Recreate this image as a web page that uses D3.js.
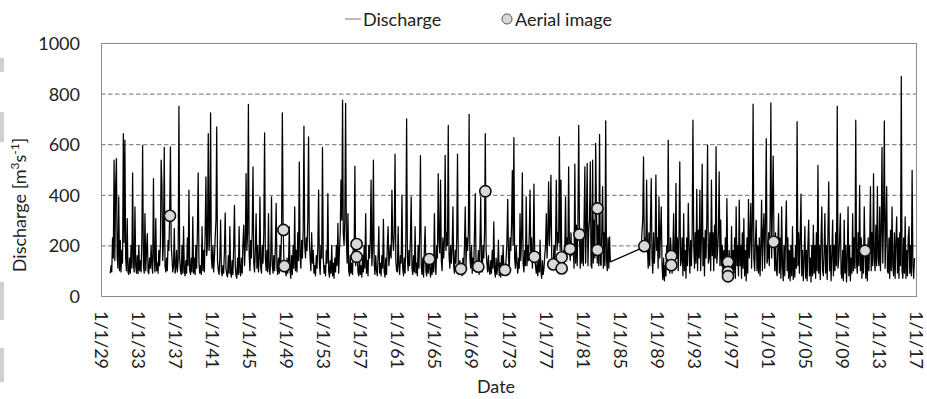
<!DOCTYPE html>
<html><head><meta charset="utf-8">
<script src="https://cdn.jsdelivr.net/npm/d3@7"></script>
<style>
body{margin:0;background:#fff}
svg{display:block}
text{font-family:Lato,"Open Sans",sans-serif;fill:#222}
</style>
</head><body>
<svg id="chart" width="927" height="399"></svg>
<script>
// ---------- data ----------
const tickYears = [1929,1933,1937,1941,1945,1949,1953,1957,1961,1965,1969,1973,1977,1981,1985,1989,1993,1997,2001,2005,2009,2013,2017];
const tickLabels = ["1/1/29","1/1/33","1/1/37","1/1/41","1/1/45","1/1/49","1/1/53","1/1/57","1/1/61","1/1/65","1/1/69","1/1/73","1/1/77","1/1/81","1/1/85","1/1/89","1/1/93","1/1/97","1/1/01","1/1/05","1/1/09","1/1/13","1/1/17"];
const yTicks = [0,200,400,600,800,1000];

// monthly discharge, first record: starts Jan 1930
const seg1Start = [1930, 0];
const discharge1930to1984 = [
 90,120,95,230,150,537,140,438,543,160,110,392,
 100,220,95,180,130,642,210,616,150,100,306,95,
 85,150,90,200,110,487,130,95,352,120,90,160,
 88,200,100,140,95,230,595,120,90,326,100,180,
 247,95,88,150,110,200,120,90,464,150,95,306,
 100,130,90,180,120,200,537,445,140,210,587,120,
 95,150,100,220,180,320,589,200,150,95,120,267,
 90,110,180,95,140,750,150,100,85,200,90,274,
 95,80,140,90,230,120,418,100,85,150,95,313,
 90,150,85,200,110,260,487,130,90,120,85,274,
 100,180,95,250,471,160,200,642,180,250,724,150,
 110,200,95,150,230,300,668,140,100,85,150,300,
 95,80,120,90,180,329,110,85,75,160,90,274,
 90,75,140,85,200,358,120,80,70,150,85,274,
 95,80,150,90,210,280,120,200,484,180,250,757,
 160,100,220,150,260,510,130,95,180,326,110,200,
 95,150,392,110,90,200,130,250,645,150,100,180,
 95,326,110,85,150,392,120,90,160,100,200,366,
 110,85,150,90,200,130,260,724,280,140,110,95,
 80,150,90,120,274,100,70,160,85,200,110,352,
 100,180,95,250,140,530,160,110,220,150,260,671,
 200,150,230,180,300,629,220,150,100,250,130,180,
 90,120,80,160,110,200,418,130,85,200,150,587,
 150,90,120,80,180,130,405,100,75,140,90,200,
 80,130,70,150,95,200,120,287,90,180,250,458,
 300,774,250,200,300,761,220,130,326,100,80,160,
 90,130,85,200,150,513,120,210,160,95,80,150,
 85,120,75,160,95,200,110,326,90,140,80,200,
 150,220,458,120,180,537,130,85,160,100,80,150,
 274,90,130,80,160,110,303,95,75,150,85,200,
 274,120,160,200,150,418,230,180,250,561,140,100,
 95,274,120,85,160,130,399,110,80,150,90,220,
 700,150,100,180,120,230,392,110,85,160,95,274,
 90,130,80,200,110,250,555,120,85,150,75,180,
 274,100,80,150,90,145,110,75,130,85,160,95,
 326,120,85,200,150,484,220,170,458,140,100,230,
 150,220,556,180,250,200,674,160,110,200,130,180,
 352,120,90,180,130,230,561,120,85,140,105,90,
 80,150,100,200,352,120,230,180,250,718,150,110,
 200,90,150,110,250,405,130,95,115,180,85,200,
 392,130,95,200,150,250,642,180,130,95,160,100,
 85,140,90,180,110,293,100,75,150,85,120,221,
 80,130,75,160,90,200,110,103,85,150,220,382,
 150,100,230,180,280,497,200,626,150,110,200,130,
 90,150,110,326,140,230,487,130,95,180,120,392,
 120,200,140,250,418,150,230,110,180,442,155,120,
 90,130,80,160,95,221,100,70,140,85,110,160,
 200,326,150,230,451,200,280,478,160,110,125,200,
 140,220,458,180,250,210,629,180,458,150,110,180,
 120,200,392,150,230,180,510,186,140,250,160,200,
 180,110,521,130,280,120,300,674,243,110,220,130,
 250,120,300,510,130,280,524,120,260,300,530,120,
 110,537,130,300,150,603,350,130,280,120,639,130,
 120,280,432,110,250,120,692,150,100,230,110,234,
 135
];

// monthly discharge, second record: starts May 1987
const seg2Start = [1987, 4];
const discharge1987to2016 = [
 188,250,300,550,197,230,180,458,
 200,110,250,120,300,464,150,90,250,130,200,478,
 180,230,110,392,150,250,352,120,65,150,60,120,
 80,200,110,616,180,90,230,158,90,180,326,110,
 120,445,150,230,100,250,530,120,140,230,80,326,
 100,180,70,230,120,366,200,90,220,120,250,695,
 200,110,250,130,421,100,260,150,418,100,230,521,
 120,230,80,260,150,300,596,130,150,250,100,458,
 160,250,100,280,150,590,130,180,250,491,120,300,
 120,200,70,180,90,230,110,385,135,75,180,65,
 100,274,70,180,90,230,70,352,120,200,80,379,
 120,200,70,250,110,306,80,180,60,230,90,382,
 150,230,366,110,280,758,150,100,220,300,100,200,
 90,230,80,200,379,100,250,326,110,280,622,130,
 150,250,120,300,763,150,350,553,214,100,250,100,
 80,200,326,90,230,70,352,120,60,200,80,230,
 376,100,230,70,180,60,200,80,274,65,150,75,
 200,110,689,120,250,90,230,403,80,180,60,150,
 274,70,180,60,200,300,80,150,55,200,80,280,
 90,200,70,250,100,516,90,200,65,230,352,100,
 80,180,326,90,200,65,250,451,100,200,60,160,
 300,80,200,100,250,120,750,110,150,230,326,90,
 70,180,60,300,90,200,55,150,352,80,200,60,
 150,90,326,100,230,110,695,130,90,250,120,437,
 100,230,70,200,90,352,180,70,200,60,230,100,
 200,432,100,250,120,484,150,100,280,120,432,150,
 120,352,100,250,587,130,300,692,110,250,432,100,
 90,230,70,260,100,352,120,80,250,70,220,313,
 90,230,70,250,120,868,100,70,230,90,313,70,
 180,80,230,274,90,200,80,497,120,70,150
];

// aerial image dates (decimal year) and discharge
const aerialYears  = [1936.45,1948.7,1948.8,1956.6,1956.6,1964.45,1967.86,1969.74,1970.5,1972.62,1975.8,1977.84,1978.74,1978.74,1979.64,1980.65,1982.6,1982.6,1987.67,1990.58,1990.58,1996.7,1996.7,1996.7,2001.63,2011.5];
const aerialValues = [317,261,118,205,155,146,107,116,414,103,155,125,153,109,186,243,346,182,197,158,122,134,95,78,214,179];

// ---------- chart ----------
const svg = d3.select("#chart");
const plot = {left:101, right:916, top:43, bottom:296};

const x = d3.scaleTime()
  .domain([new Date(1929,0,1), new Date(2017,0,1)])
  .range([plot.left, plot.right]);
const y = d3.scaleLinear().domain([0,1000]).range([plot.bottom, plot.top]);

function decYear(v){
  const yr = Math.floor(v);
  const a = new Date(yr,0,1), b = new Date(yr+1,0,1);
  return new Date(+a + (v-yr)*(b-a));
}

const series = [];
discharge1930to1984.forEach((v,i)=>series.push({date:new Date(seg1Start[0], seg1Start[1]+i, 1), value:v}));
discharge1987to2016.forEach((v,i)=>series.push({date:new Date(seg2Start[0], seg2Start[1]+i, 1), value:v}));

// left edge artefacts (grey bars of the source page)
const art = svg.append("g").attr("fill","#d0d0d0");
[[58,14],[112,30],[282,38],[348,34]].forEach(r=>art.append("rect").attr("x",0).attr("y",r[0]).attr("width",4).attr("height",r[1]));

// gridlines
svg.append("g").selectAll("line").data(yTicks.filter(t=>t>0 && t<1000)).join("line")
  .attr("x1",plot.left).attr("x2",plot.right)
  .attr("y1",d=>y(d)+0.5).attr("y2",d=>y(d)+0.5)
  .attr("stroke","#6e6e6e").attr("stroke-width",1).attr("stroke-dasharray","4.5,2.5");

// discharge line
const line = d3.line().x(d=>x(d.date)).y(d=>y(d.value));
svg.append("path").datum(series)
  .attr("d",line).attr("fill","none")
  .attr("stroke","#000").attr("stroke-width",1.25).attr("stroke-linejoin","round");

// plot border
svg.append("rect")
  .attr("x",plot.left+0.5).attr("y",plot.top+0.5)
  .attr("width",plot.right-plot.left).attr("height",plot.bottom-plot.top)
  .attr("fill","none").attr("stroke","#8c8c8c").attr("stroke-width",1);

// aerial image points
svg.append("g").selectAll("circle").data(aerialYears.map((d,i)=>({date:decYear(d), value:aerialValues[i]}))).join("circle")
  .attr("cx",d=>x(d.date)).attr("cy",d=>y(d.value)).attr("r",5.6)
  .attr("fill","#d9d9d9").attr("stroke","#111").attr("stroke-width",1.6);

// y axis labels
const yAxis = d3.axisLeft(y).tickValues(yTicks).tickFormat(d3.format("d")).tickSize(0).tickPadding(0);
const gy = svg.append("g").attr("transform",`translate(80,0)`).call(yAxis);
gy.select(".domain").remove();
gy.selectAll("text").attr("font-size",18).attr("font-family","Lato").attr("fill","#222").attr("dy","0.36em");

// x axis labels
const xAxis = d3.axisBottom(x).tickValues(tickYears.map(yr=>new Date(yr,0,1))).tickFormat((d,i)=>tickLabels[i]).tickSize(0);
const gx = svg.append("g").attr("transform",`translate(0,${plot.bottom})`).call(xAxis);
gx.select(".domain").remove();
gx.selectAll("text")
  .attr("font-size",18).attr("font-family","Lato").attr("fill","#222")
  .attr("text-anchor","start")
  .attr("transform","translate(0,15) rotate(90)")
  .attr("x",0).attr("y",0).attr("dy","0.36em");

// axis titles
svg.append("text").attr("x",496).attr("y",393).attr("text-anchor","middle").attr("font-size",18).text("Date");
const yt = svg.append("text").attr("transform","translate(26,205) rotate(-90)").attr("text-anchor","middle").attr("font-size",18);
yt.append("tspan").text("Discharge [m");
yt.append("tspan").attr("font-size",12).attr("dy",-7).text("3");
yt.append("tspan").attr("dy",7).text("s");
yt.append("tspan").attr("font-size",12).attr("dy",-7).text("-1");
yt.append("tspan").attr("dy",7).text("]");

// legend
const lg = svg.append("g");
lg.append("line").attr("x1",345).attr("x2",361).attr("y1",19).attr("y2",19).attr("stroke","#777").attr("stroke-width",1);
lg.append("text").attr("x",363).attr("y",26).attr("font-size",18).text("Discharge");
lg.append("circle").attr("cx",507).attr("cy",19).attr("r",5).attr("fill","#d9d9d9").attr("stroke","#555").attr("stroke-width",1);
lg.append("text").attr("x",515).attr("y",26).attr("font-size",18).text("Aerial image");
</script>
</body></html>
